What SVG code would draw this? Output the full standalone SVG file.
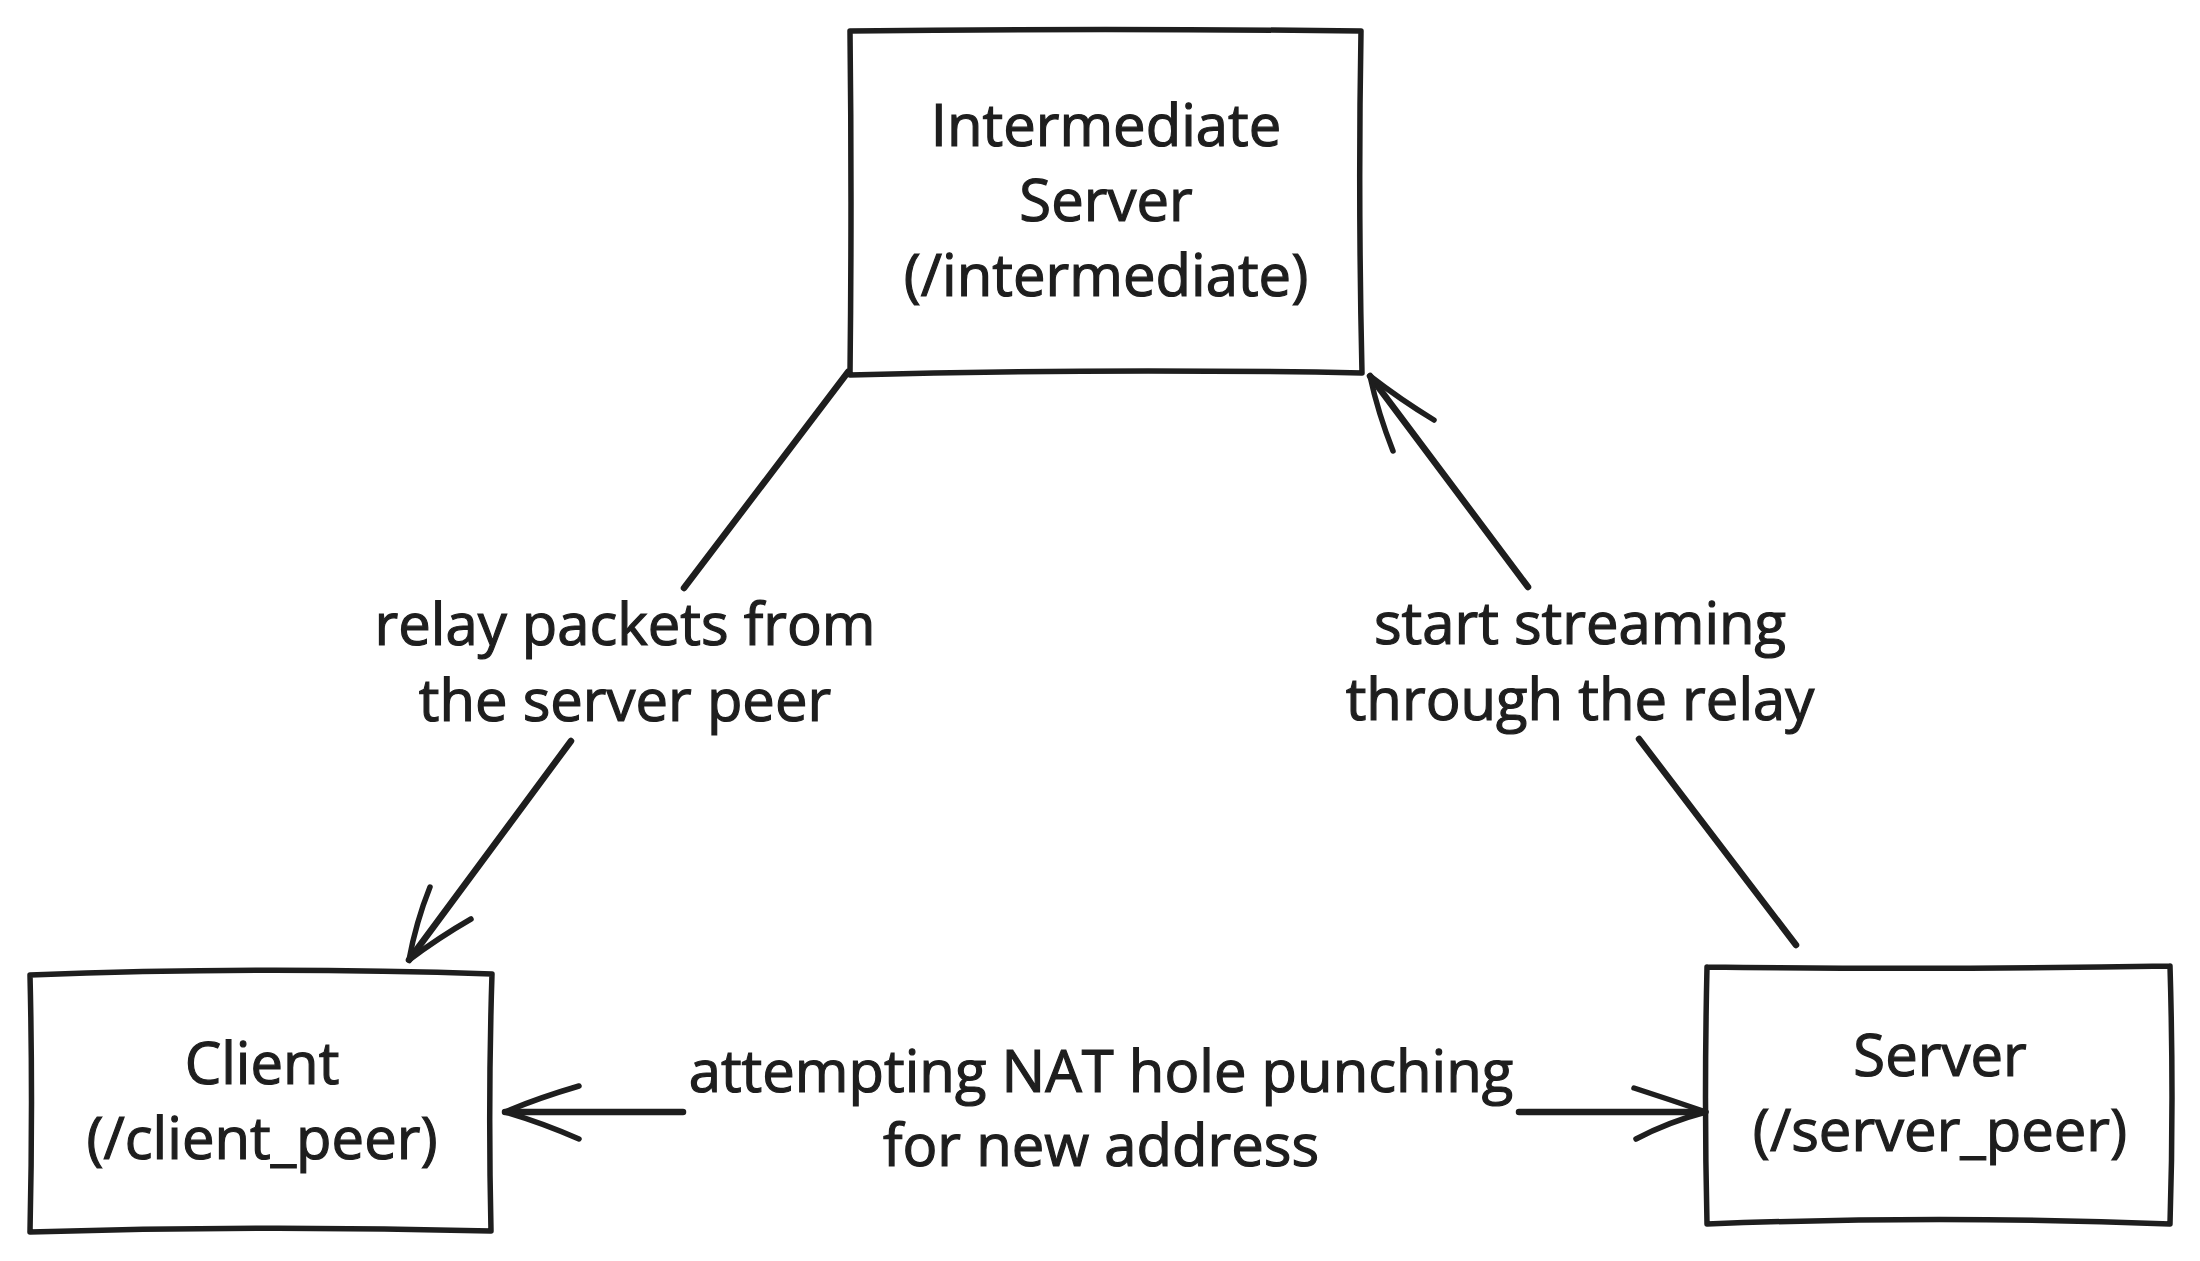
<svg xmlns="http://www.w3.org/2000/svg" width="2200" height="1261" viewBox="0 0 2200 1261">
<style>
.box{fill:none;stroke:#1e1e1e;stroke-width:5.5;stroke-linecap:round;stroke-linejoin:round}
.edge{fill:none;stroke:#1e1e1e;stroke-width:6.5;stroke-linecap:round;stroke-linejoin:round}
.head{fill:none;stroke:#1e1e1e;stroke-width:5.5;stroke-linecap:round;stroke-linejoin:round}
text{font-family:"Open Sans","Noto Sans",sans-serif;font-size:58px;font-weight:500;fill:#1e1e1e;stroke:#1e1e1e;stroke-width:1.2;text-anchor:middle}
</style>
<rect width="2200" height="1261" fill="#ffffff"/>
<g id="node-intermediate">
<path class="box" d="M850 31 Q1105 28 1361 31 M1361 31 Q1358 200 1362 373 M1362 373 Q1105 368 850 375 M850 375 Q852 200 850 31"/>
<text x="1106" y="146">Intermediate</text>
<text x="1106" y="221">Server</text>
<text x="1106" y="296">(/intermediate)</text>
</g>
<g id="node-client">
<path class="box" d="M30 975 Q260 966 492 974 M492 974 Q488 1100 491 1231 M491 1231 Q260 1225 30 1232 M30 1232 Q33 1100 30 975"/>
<text x="262" y="1084">Client</text>
<text x="262" y="1159">(/client_peer)</text>
</g>
<g id="node-server">
<path class="box" d="M1707 967 Q1940 970 2170 966 M2170 966 Q2174 1100 2170 1224 M2170 1224 Q1940 1215 1707 1224 M1707 1224 Q1704 1100 1707 967"/>
<text x="1940" y="1076">Server</text>
<text x="1940" y="1151">(/server_peer)</text>
</g>
<g id="connectors">
<g id="edge-intermediate-client">
<path class="edge" d="M848 372 L684 588"/>
<path class="edge" d="M571 741 L409 960"/>
<path class="head" d="M430 887 Q416 922 409 960 Q438 938 471 919"/>
<text x="625" y="645">relay packets from</text>
<text x="625" y="721">the server peer</text>
</g>
<g id="edge-server-intermediate">
<path class="edge" d="M1796 945 L1639 739"/>
<path class="edge" d="M1528 587 L1370 376"/>
<path class="head" d="M1393 451 Q1378 413 1370 376 Q1401 400 1434 420"/>
<text x="1580" y="644">start streaming</text>
<text x="1580" y="720">through the relay</text>
</g>
<g id="edge-nat">
<path class="edge" d="M683 1112 L505 1112"/>
<path class="head" d="M579 1086 Q538 1098 505 1112 Q540 1122 579 1139"/>
<path class="edge" d="M1519 1112 L1705 1112"/>
<path class="head" d="M1634 1088 Q1671 1100 1706 1112 Q1668 1122 1636 1139"/>
<text x="1101" y="1092">attempting NAT hole punching</text>
<text x="1101" y="1166">for new address</text>
</g>
</g>
</svg>
